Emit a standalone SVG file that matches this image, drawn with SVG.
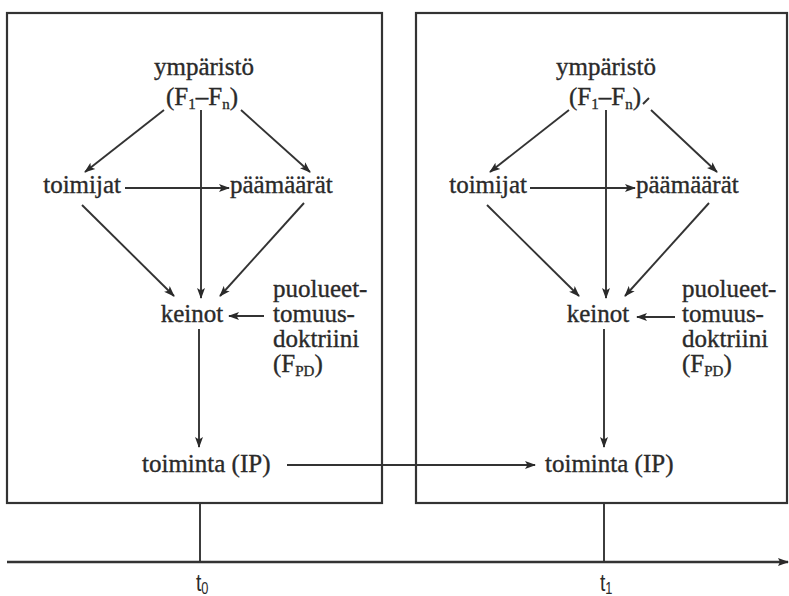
<svg xmlns="http://www.w3.org/2000/svg" width="789" height="596" viewBox="0 0 789 596">
  <style>
    .frame { fill: none; stroke: #333; stroke-width: 2.2; }
    .lbl { font-family: "Liberation Serif", "Times New Roman", serif; font-size: 25px; fill: #2a2a2a; stroke: #2a2a2a; stroke-width: 0.35; }
    .sub { font-size: 15px; }
    .time { font-family: "Liberation Sans", Arial, sans-serif; font-size: 24px; fill: #2a2a2a; }
    .conn line { stroke: #333; stroke-width: 1.9; fill: none; }
    .conn line.arr { marker-end: url(#ah); }
    .axis { stroke: #333; stroke-width: 2.4; fill: none; }
  </style>
  <defs>
    <marker id="ah" markerWidth="12" markerHeight="10" refX="10" refY="5" orient="auto" markerUnits="userSpaceOnUse">
      <path d="M0,1 L11,5 L0,9 L2.5,5 Z" fill="#2a2a2a"/>
    </marker>
    <marker id="axhead" markerWidth="12" markerHeight="10" refX="10" refY="5" orient="auto" markerUnits="userSpaceOnUse">
      <path d="M0,1 L11,5 L0,9 L2,5 Z" fill="#2a2a2a"/>
    </marker>
  </defs>
  <rect width="789" height="596" fill="#fff"/>

  <!-- two time-slice frames -->
  <g id="frame-t0"><rect class="frame" x="7" y="13" width="375" height="490"/></g>
  <g id="frame-t1"><rect class="frame" x="416" y="13" width="371" height="490"/></g>

  <!-- nodes at t0 -->
  <g id="ymparisto-0" class="lbl">
    <text x="204" y="75" text-anchor="middle">ympäristö</text>
    <text x="202" y="105" text-anchor="middle">(F<tspan class="sub" dy="4">1</tspan><tspan dy="-4">–F</tspan><tspan class="sub" dy="4">n</tspan><tspan dy="-4">)</tspan></text>
  </g>
  <g id="toimijat-0" class="lbl"><text x="121" y="193" text-anchor="end">toimijat</text></g>
  <g id="paamaarat-0" class="lbl"><text x="230" y="193">päämäärät</text></g>
  <g id="keinot-0" class="lbl"><text x="192" y="322" text-anchor="middle">keinot</text></g>
  <g id="doktriini-0" class="lbl">
    <text x="273" y="297">puolueet-</text>
    <text x="273" y="322">tomuus-</text>
    <text x="273" y="347">doktriini</text>
    <text x="273" y="372">(F<tspan class="sub" dy="4">PD</tspan><tspan dy="-4">)</tspan></text>
  </g>
  <g id="toiminta-0" class="lbl"><text x="142" y="472">toiminta (IP)</text></g>

  <!-- nodes at t1 -->
  <g id="ymparisto-1" class="lbl">
    <text x="606" y="75" text-anchor="middle">ympäristö</text>
    <text x="605" y="105" text-anchor="middle">(F<tspan class="sub" dy="4">1</tspan><tspan dy="-4">–F</tspan><tspan class="sub" dy="4">n</tspan><tspan dy="-4">)</tspan></text>
  </g>
  <g id="toimijat-1" class="lbl"><text x="527" y="193" text-anchor="end">toimijat</text></g>
  <g id="paamaarat-1" class="lbl"><text x="636" y="193">päämäärät</text></g>
  <g id="keinot-1" class="lbl"><text x="598" y="322" text-anchor="middle">keinot</text></g>
  <g id="doktriini-1" class="lbl">
    <text x="682" y="297">puolueet-</text>
    <text x="682" y="322">tomuus-</text>
    <text x="682" y="347">doktriini</text>
    <text x="682" y="372">(F<tspan class="sub" dy="4">PD</tspan><tspan dy="-4">)</tspan></text>
  </g>
  <g id="toiminta-1" class="lbl"><text x="545" y="472">toiminta (IP)</text></g>

  <!-- connectors -->
  <g id="connectors" class="conn">
    <!-- t0 -->
    <line class="arr" x1="201" y1="110" x2="201" y2="298"/>
    <line class="arr" x1="164" y1="110" x2="85" y2="172"/>
    <line class="arr" x1="241" y1="110" x2="310" y2="172"/>
    <line class="arr" x1="125" y1="188" x2="229" y2="188"/>
    <line class="arr" x1="82" y1="205" x2="174" y2="296"/>
    <line class="arr" x1="304" y1="203" x2="220" y2="296"/>
    <line class="arr" x1="264" y1="316" x2="229" y2="316"/>
    <line class="arr" x1="199" y1="329" x2="199" y2="447"/>
    <!-- t0 action to t1 action -->
    <line class="arr" x1="287" y1="465" x2="535" y2="465"/>
    <!-- t1 -->
    <line class="arr" x1="606" y1="110" x2="606" y2="298"/>
    <line class="arr" x1="569" y1="110" x2="490" y2="172"/>
    <line x1="643" y1="104" x2="649" y2="98"/>
    <line class="arr" x1="651" y1="110" x2="717" y2="172"/>
    <line class="arr" x1="530" y1="188" x2="635" y2="188"/>
    <line class="arr" x1="487" y1="205" x2="579" y2="296"/>
    <line class="arr" x1="709" y1="203" x2="625" y2="296"/>
    <line class="arr" x1="675" y1="317" x2="637" y2="317"/>
    <line class="arr" x1="604" y1="329" x2="604" y2="447"/>
    <!-- frame ticks to the time axis -->
    <line x1="200" y1="503" x2="200" y2="562"/>
    <line x1="604" y1="503" x2="604" y2="562"/>
  </g>

  <!-- time axis -->
  <g id="time-axis">
    <line class="axis" x1="7" y1="562" x2="788" y2="562" marker-end="url(#axhead)"/>
    <text class="time" x="196" y="591" transform="translate(196 0) scale(0.8 1) translate(-196 0)">t<tspan font-size="16" dy="3">0</tspan></text>
    <text class="time" x="600" y="591" transform="translate(600 0) scale(0.8 1) translate(-600 0)">t<tspan font-size="16" dy="3">1</tspan></text>
  </g>
</svg>
